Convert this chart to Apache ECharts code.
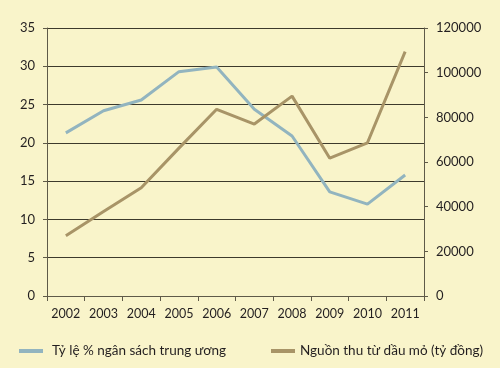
<!DOCTYPE html>
<html><head><meta charset="utf-8">
<script src="https://cdn.jsdelivr.net/npm/echarts@6/dist/echarts.min.js"></script>
<style>html,body{margin:0;padding:0;background:#f9f4ca;}#c{width:500px;height:368px;}</style>
</head><body><div id="c"></div>
<script>
const years = ['2002','2003','2004','2005','2006','2007','2008','2009','2010','2011'];
const budgetShare = [21.3, 24.2, 25.6, 29.3, 29.9, 24.4, 20.9, 13.6, 12.0, 15.8];
const oilRevenue = [27000, 37800, 48500, 66200, 83600, 77000, 89500, 61700, 68600, 109400];
const leftTicks = [0, 35, 5];
const rightTicks = [0, 120000, 20000];
const nameShare = 'Tỷ lệ % ngân sách trung ương';
const nameOil = 'Nguồn thu từ dầu mỏ (tỷ đồng)';

const txt = '#231f20';
const axisCol = '#5f5a48';
const font = 'Lato';
const chart = echarts.init(document.getElementById('c'));
chart.setOption({
  backgroundColor: '#f9f4ca',
  animation: false,
  textStyle: {fontFamily: font},
  grid: {left: 47, right: 76, top: 28, bottom: 72},
  legend: [
    {data: [nameShare], left: 14, top: 339, icon: 'rect', itemWidth: 24, itemHeight: 4, itemGap: 10,
     textStyle: {fontFamily: font, fontSize: 13.5, color: txt, padding: [0,0,0,4]}},
    {data: [nameOil], left: 266, top: 339, icon: 'rect', itemWidth: 24, itemHeight: 4,
     textStyle: {fontFamily: font, fontSize: 13.5, color: txt, padding: [0,0,0,0]}}
  ],
  xAxis: {
    type: 'category', data: years, boundaryGap: true,
    axisLine: {lineStyle: {color: axisCol, width: 1}},
    axisTick: {show: true, length: 5, lineStyle: {color: axisCol}},
    axisLabel: {color: txt, fontSize: 12.5, margin: 11, fontFamily: font, interval: 0}
  },
  yAxis: [
    {type: 'value', min: leftTicks[0], max: leftTicks[1], interval: leftTicks[2],
     axisLine: {show: true, lineStyle: {color: axisCol}},
     axisTick: {show: true, length: 4, lineStyle: {color: axisCol}},
     axisLabel: {color: txt, fontSize: 13, margin: 12, fontFamily: font},
     splitLine: {lineStyle: {color: '#3d3a2c', width: 1}}},
    {type: 'value', min: rightTicks[0], max: rightTicks[1], interval: rightTicks[2], position: 'right',
     axisLine: {show: true, lineStyle: {color: axisCol}},
     axisTick: {show: true, length: 4, lineStyle: {color: axisCol}},
     axisLabel: {color: txt, fontSize: 13, margin: 12, fontFamily: font, formatter: v => String(v)},
     splitLine: {show: false}}
  ],
  series: [
    {name: nameShare, type: 'line', yAxisIndex: 0, data: budgetShare, symbol: 'none',
     lineStyle: {color: '#92b4bf', width: 3}, itemStyle: {color: '#92b4bf'}},
    {name: nameOil, type: 'line', yAxisIndex: 1, data: oilRevenue, symbol: 'none',
     lineStyle: {color: '#a89467', width: 3}, itemStyle: {color: '#a89467'}}
  ]
});
</script></body></html>
